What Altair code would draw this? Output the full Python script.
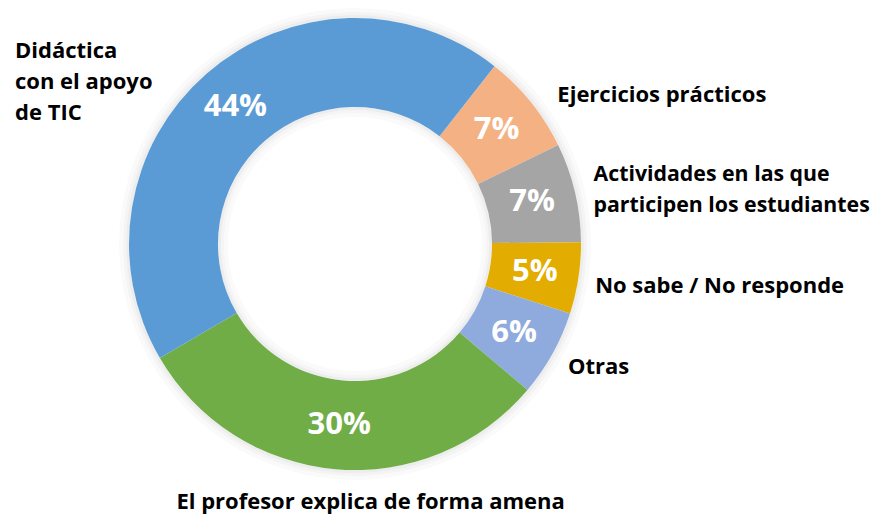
import math
import altair as alt
import pandas as pd

categories = [
    "Ejercicios prácticos",
    "Actividades en las que\nparticipen los estudiantes",
    "No sabe / No responde",
    "Otras",
    "El profesor explica de forma amena",
    "Didáctica\ncon el apoyo\nde TIC",
]
values = [7.2, 7.1, 5.1, 6.2, 30.4, 44.0]
colors = ["#F4B183", "#A5A5A5", "#E2AC00", "#8FAADC", "#70AD47", "#5B9BD5"]

df = pd.DataFrame({"cat": categories, "value": values, "idx": list(range(len(categories)))})

start = math.radians(38.1)
theta = alt.Theta("value:Q", stack=True,
                  scale=alt.Scale(range=[start, start + 2 * math.pi]))
order = alt.Order("idx:Q", sort="ascending")
cx = alt.value(347)
cy = alt.value(236)

base = alt.Chart(df).transform_calculate(
    pct="toString(round(datum.value)) + '%'",
)

FONT = "Open Sans"
R_OUT, R_IN = 226, 137

# soft shadow around the ring (outer glow and inner shadow of the hole)
shadows = []
for r0, r1, op in [(R_OUT, R_OUT + 3, 0.07), (R_OUT + 3, R_OUT + 6, 0.045),
                   (R_OUT + 6, R_OUT + 10, 0.02),
                   (R_IN - 3, R_IN, 0.07), (R_IN - 6, R_IN - 3, 0.04),
                   (R_IN - 10, R_IN - 6, 0.018)]:
    shadows.append(
        base.mark_arc(innerRadius=r0, outerRadius=r1, color="#000000",
                      opacity=op, strokeWidth=0).encode(
            theta=theta, order=order, x=cx, y=cy)
    )

arcs = base.mark_arc(innerRadius=R_IN, outerRadius=R_OUT).encode(
    theta=theta, order=order, x=cx, y=cy,
    color=alt.Color("cat:N", scale=alt.Scale(domain=categories, range=colors), legend=None),
)

pct = base.mark_text(radius=182, font=FONT, fontSize=31, fontWeight="bold",
                     color="white", baseline="middle", align="center").encode(
    theta=theta, order=order, x=cx, y=cy, text="pct:N")

common = dict(font=FONT, fontWeight="bold", color="black",
              baseline="middle", lineBreak="\n", lineHeight=31)


def label_layer(i, radius, align, dx, dy, size=22):
    return base.transform_calculate(
        lab=f"datum.idx == {i} ? datum.cat : ''"
    ).mark_text(radius=radius, align=align, dx=dx, dy=dy, fontSize=size,
                **common).encode(
        theta=theta, order=order, x=cx, y=cy, text="lab:N")


labels = [
    label_layer(0, 246, "left", 11, 6),
    label_layer(1, 246, "left", -1, -13, size=21.3),
    label_layer(2, 246, "left", -3, 5),
    label_layer(3, 246, "left", -2, 3),
    label_layer(4, 258, "center", 38, 1),
    label_layer(5, 216, "left", -198, -30),
]

chart = alt.layer(*shadows, arcs, pct, *labels).properties(
    width=872, height=507, autosize="none", padding=0
).configure_view(stroke=None)

chart.save("out.html", embed_options={"renderer": "svg", "actions": False})
